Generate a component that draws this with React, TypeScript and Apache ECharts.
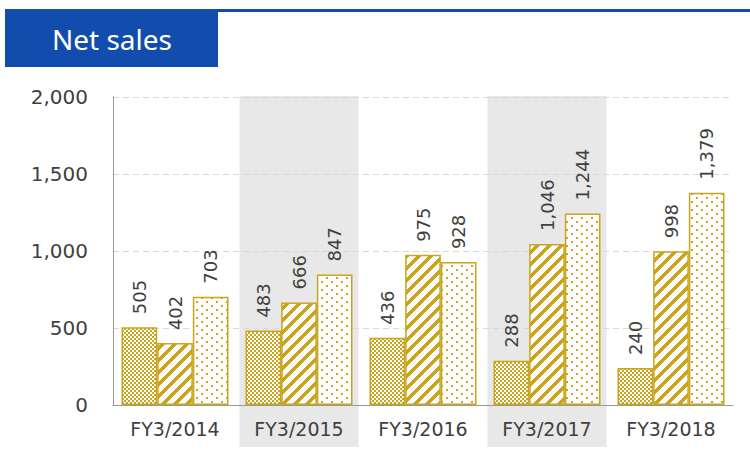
import React, { useEffect, useRef } from "react";
import * as echarts from "echarts";

const categories = ["FY3/2014", "FY3/2015", "FY3/2016", "FY3/2017", "FY3/2018"];
const seriesChecker = [505, 483, 436, 288, 240];
const seriesStripe = [402, 666, 975, 1046, 998];
const seriesDots = [703, 847, 928, 1244, 1379];
const bandFlags = [0, 1, 0, 1, 0];
const yTicks = { min: 0, max: 2000, interval: 500 };
const titleText = "Net sales";

const GOLD = "#C9A41C";
const GOLD_RGB = [201, 164, 28];

function makeTile(w: number, h: number, isGold: (x: number, y: number) => boolean) {
  const c = document.createElement("canvas");
  c.width = w;
  c.height = h;
  const ctx = c.getContext("2d")!;
  const img = ctx.createImageData(w, h);
  for (let y = 0; y < h; y++) {
    for (let x = 0; x < w; x++) {
      const i = (y * w + x) * 4;
      const g = isGold(x, y);
      img.data[i] = g ? GOLD_RGB[0] : 255;
      img.data[i + 1] = g ? GOLD_RGB[1] : 255;
      img.data[i + 2] = g ? GOLD_RGB[2] : 255;
      img.data[i + 3] = 255;
    }
  }
  ctx.putImageData(img, 0, 0);
  return { type: "pattern", image: c.toDataURL(), imageWidth: w, imageHeight: h, repeat: "repeat" } as any;
}

const fmt = (v: number) => v.toLocaleString("en-US");

export default function App() {
  const ref = useRef<HTMLDivElement>(null);
  useEffect(() => {
    if (!ref.current) return;
    const chart = echarts.init(ref.current, null, { renderer: "svg" });
    const checker = makeTile(4, 4, (x, y) => (Math.floor(x / 2) + Math.floor(y / 2)) % 2 === 0);
    const stripe = makeTile(12, 12, (x, y) => (x + y) % 12 < 5);
    const dots = makeTile(10, 8, (x, y) =>
      ((x === 1 || x === 2) && (y === 1 || y === 2)) || ((x === 6 || x === 7) && (y === 5 || y === 6))
    );
    const label = {
      show: true,
      position: "top",
      rotate: 90,
      align: "left",
      verticalAlign: "middle",
      distance: 13,
      fontSize: 18,
      fontFamily: "DejaVu Sans",
      color: "#404040",
      formatter: (p: any) => fmt(p.value),
    };
    const mk = (data: number[], fill: any) => ({
      type: "bar",
      data,
      barGap: "0%",
      barCategoryGap: "13.7%",
      itemStyle: { color: fill, borderColor: GOLD, borderWidth: 1.5 },
      label,
      z: 2,
    });
    chart.setOption({
      animation: false,
      textStyle: { fontFamily: "DejaVu Sans" },
      graphic: [
        { type: "rect", shape: { x: 5, y: 9, width: 745, height: 3 }, style: { fill: "#124CAD" } },
        { type: "rect", shape: { x: 5, y: 9, width: 213, height: 58 }, style: { fill: "#124CAD" } },
        {
          type: "text",
          x: 52,
          y: 39,
          style: {
            text: titleText,
            fill: "#ffffff",
            fontSize: 28,
            fontFamily: "Noto Sans",
            verticalAlign: "middle",
          },
        },
      ],
      grid: [
        { left: 113, right: 17, top: 97, bottom: 50 },
        { left: 113, right: 17, top: 96, bottom: 8 },
      ],
      xAxis: [
        {
          type: "category",
          data: categories,
          gridIndex: 0,
          axisLine: { show: true, lineStyle: { color: "#999999", width: 1 } },
          axisTick: { show: false },
          axisLabel: { fontSize: 19, color: "#404040", margin: 14, fontFamily: "DejaVu Sans" },
        },
        { type: "category", data: categories, gridIndex: 1, show: false },
      ],
      yAxis: [
        {
          type: "value",
          gridIndex: 0,
          min: yTicks.min,
          max: yTicks.max,
          interval: yTicks.interval,
          axisLine: { show: true, lineStyle: { color: "#999999", width: 1 } },
          axisTick: { show: false },
          axisLabel: {
            fontSize: 20,
            color: "#404040",
            margin: 25,
            fontFamily: "DejaVu Sans",
            formatter: (v: number) => fmt(v),
          },
          splitLine: { show: true, lineStyle: { color: "#d9d9d9", type: [6, 4], width: 1 } },
        },
        { type: "value", gridIndex: 1, min: 0, max: 1, show: false },
      ],
      series: [
        mk(seriesChecker, checker),
        mk(seriesStripe, stripe),
        mk(seriesDots, dots),
        {
          type: "bar",
          xAxisIndex: 1,
          yAxisIndex: 1,
          data: bandFlags,
          barWidth: "96%",
          itemStyle: { color: "#e8e8e8" },
          silent: true,
          z: -1,
        },
      ],
    });
    return () => chart.dispose();
  }, []);
  return (
    <div
      ref={ref}
      style={{ position: "fixed", left: 0, top: 0, width: 750, height: 455, background: "#fff" }}
    />
  );
}
